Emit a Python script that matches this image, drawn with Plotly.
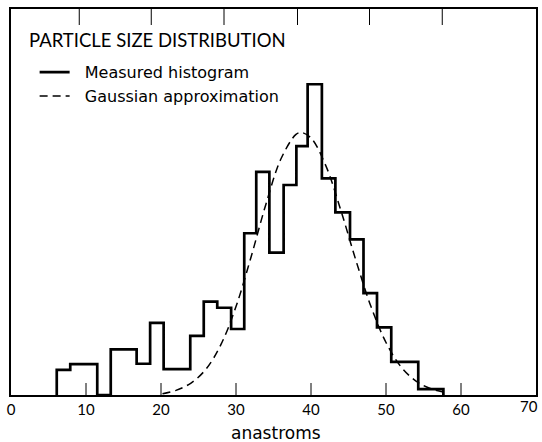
import plotly.graph_objects as go

# Histogram bin edges (angstroms) and heights (relative frequency)
bin_edges = [6.1, 7.9, 11.5, 13.3, 16.75, 18.55, 20.35, 23.9, 25.7, 27.5, 29.35,
             31.1, 32.7, 34.45, 36.35, 38.05, 39.55, 41.45, 43.25, 45.2, 47.0,
             48.8, 50.7, 54.3, 57.65]
bin_heights = [6.5, 8.0, 0.0, 11.8, 8.1, 18.7, 6.7, 15.3, 24.2, 22.6, 17.1,
               41.9, 57.8, 36.9, 54.4, 64.5, 80.5, 56.1, 47.3, 40.3, 26.4,
               17.5, 8.6, 1.5]

# Gaussian approximation curve
gauss_x = [20.2, 22, 24, 26, 28, 30, 32, 34, 36, 38, 38.7, 40, 42, 44, 46,
           48, 50, 52, 54, 56, 57.6]
gauss_y = [0.3, 1.2, 3.1, 6.7, 13.1, 22.9, 35.7, 49.5, 61.2, 67.5, 68.0,
           66.6, 59.3, 47.7, 34.8, 22.9, 13.6, 7.3, 3.6, 1.6, 0.8]

x_ticks = [0, 10, 20, 30, 40, 50, 60]
x_tick_labels = ["0", "10", "20", "30", "40", "50", "60"]
last_tick = 70  # labelled separately so it stays inside the page
inner_ticks = [10, 20, 30, 40, 50, 60]
top_ticks = [9.1, 18.7, 28.4, 38.2, 47.8, 57.5]

title_text = "PARTICLE SIZE DISTRIBUTION"
x_title = "anastroms"
names = ["Measured histogram", "Gaussian approximation"]

FONT = "Lato"
FONT2 = "DejaVu Sans"

# step outline
hx = [bin_edges[0]] + bin_edges
hy = [0] + bin_heights + [0]

fig = go.Figure()
fig.add_trace(go.Scatter(
    x=hx, y=hy, mode="lines", line=dict(shape="hv", color="black", width=2.7),
    name="\u00a0\u00a0" + names[0], showlegend=True))
fig.add_trace(go.Scatter(
    x=gauss_x, y=gauss_y, mode="lines",
    line=dict(shape="spline", color="black", width=1.5, dash="8px,5px"),
    name="\u00a0\u00a0" + names[1]))

# tick marks drawn inside the frame (bottom and top)
tick_shapes = []
for v in inner_ticks:
    tick_shapes.append(dict(type="line", xref="x", yref="paper", ysizemode="pixel",
                            yanchor=0, x0=v, x1=v, y0=0, y1=12,
                            line=dict(color="black", width=1)))
for v in top_ticks:
    tick_shapes.append(dict(type="line", xref="x", yref="paper", ysizemode="pixel",
                            yanchor=1, x0=v, x1=v, y0=0, y1=-16,
                            line=dict(color="black", width=1)))

fig.update_layout(
    width=542, height=442,
    margin=dict(l=11, r=6, t=9, b=47, autoexpand=False),
    paper_bgcolor="white", plot_bgcolor="white",
    font=dict(family=FONT, color="black"),
    showlegend=True,
    legend=dict(x=0.045, y=0.88, xanchor="left", yanchor="top",
                bgcolor="rgba(0,0,0,0)", font=dict(size=16, family=FONT2),
                tracegroupgap=0, itemwidth=30),
    xaxis=dict(range=[0, 70], tickvals=x_ticks, ticktext=x_tick_labels,
               ticks="", automargin=False,
               showline=True, linecolor="black", linewidth=2, mirror=True,
               showgrid=False, zeroline=False,
               tickfont=dict(size=15, family=FONT)),
    yaxis=dict(range=[0, 100], showticklabels=False, ticks="", showgrid=False,
               zeroline=False, showline=True, linecolor="black", linewidth=2,
               mirror=True, automargin=False),
    shapes=tick_shapes,
    annotations=[
        dict(text=title_text, x=0.03, y=0.92, xref="paper", yref="paper",
             xanchor="left", yanchor="middle", showarrow=False,
             font=dict(size=18.5, family=FONT)),
        dict(text=x_title, x=0.505, y=-0.098, xref="paper", yref="paper",
             xanchor="center", yanchor="middle", showarrow=False,
             font=dict(size=17, family=FONT2)),
        dict(text=str(last_tick), x=last_tick, y=0, xref="x", yref="paper",
             xanchor="right", yanchor="middle", yshift=-11, xshift=4,
             showarrow=False, font=dict(size=15, family=FONT)),
    ],
)

fig.write_html("out.html")
